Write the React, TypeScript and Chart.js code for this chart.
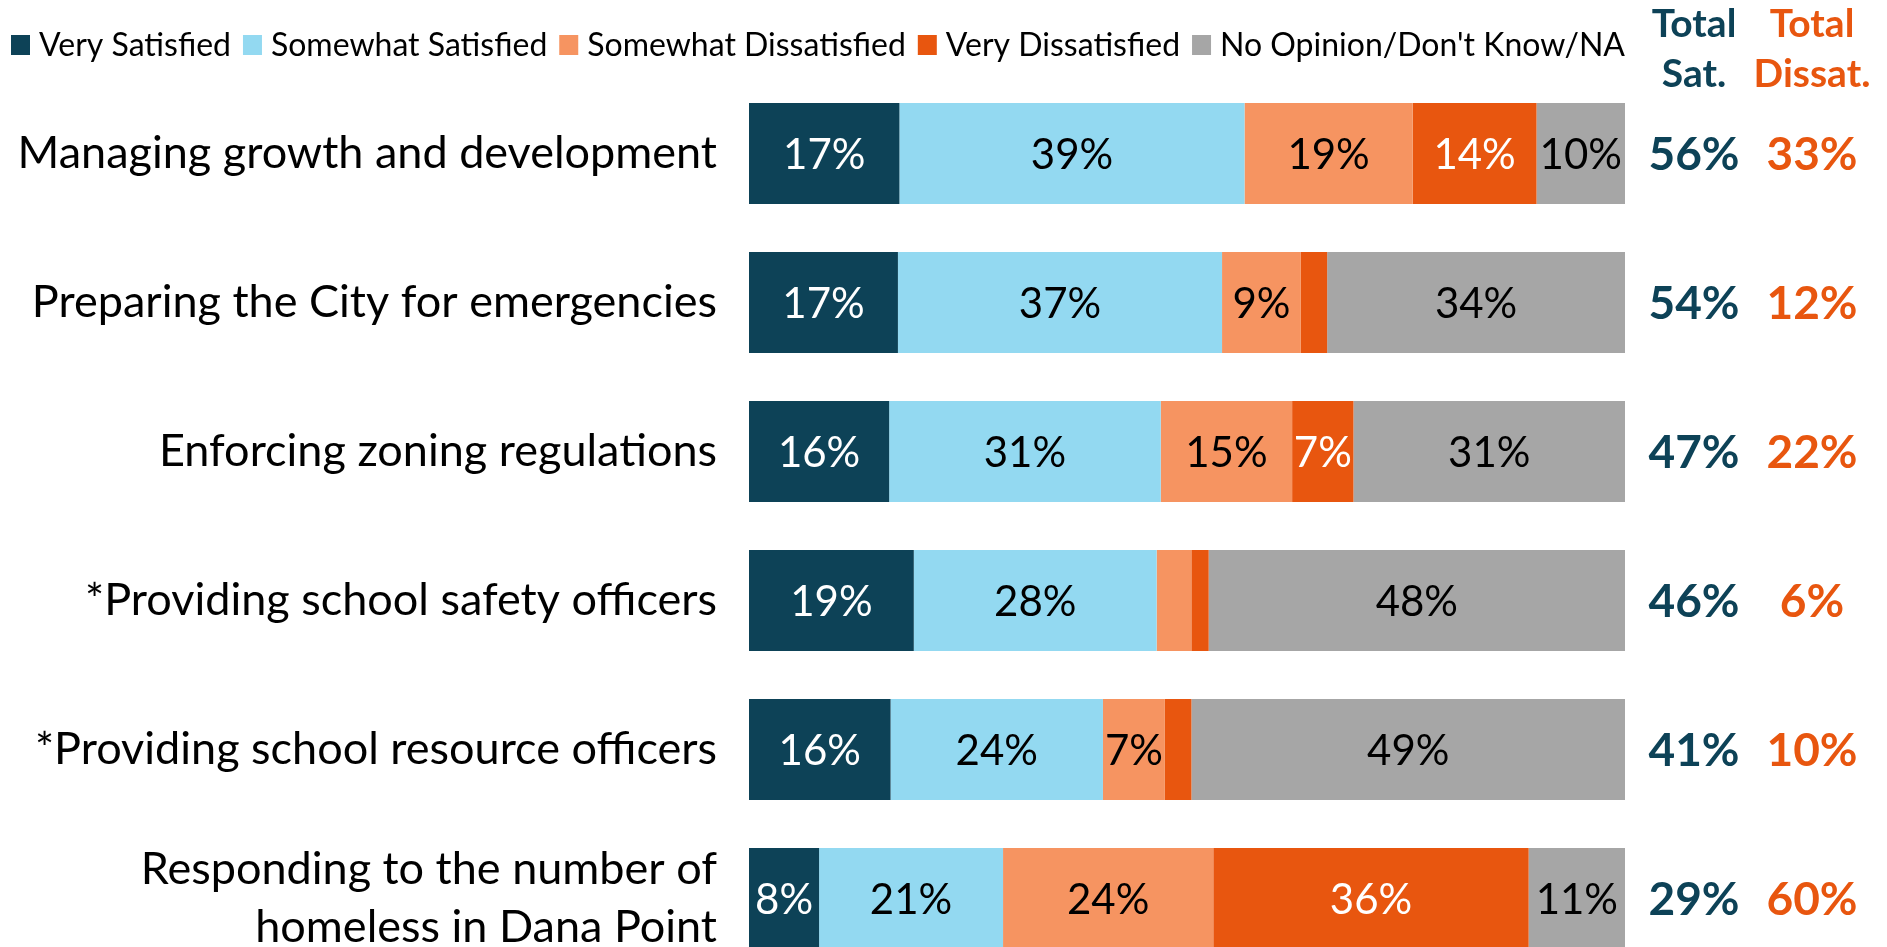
import { useEffect, useRef } from "react";
import { Chart, registerables } from "chart.js";

Chart.register(...registerables);

const categories: (string | string[])[] = [
  "Managing growth and development",
  "Preparing the City for emergencies",
  "Enforcing zoning regulations",
  "*Providing school safety officers",
  "*Providing school resource officers",
  ["Responding to the number of", "homeless in Dana Point"],
];

const seriesNames = [
  "Very Satisfied",
  "Somewhat Satisfied",
  "Somewhat Dissatisfied",
  "Very Dissatisfied",
  "No Opinion/Don't Know/NA",
];

const verySatisfied = [17, 17, 16, 19, 16, 8];
const somewhatSatisfied = [39, 37, 31, 28, 24, 21];
const somewhatDissatisfied = [19, 9, 15, 4, 7, 24];
const veryDissatisfied = [14, 3, 7, 2, 3, 36];
const noOpinion = [10, 34, 31, 48, 49, 11];

const totalSatisfied = [56, 54, 47, 46, 41, 29];
const totalDissatisfied = [33, 12, 22, 6, 10, 60];

const seriesColors = ["#0d4257", "#93d9f1", "#f69461", "#e8560f", "#a6a6a6"];
const labelColors = ["#ffffff", "#000000", "#000000", "#ffffff", "#000000"];
const satColor = "#0d4257";
const dissatColor = "#e8560f";

const FONT = "Lato, 'Noto Sans', sans-serif";
const W = 1887;
const H = 947;
const CANVAS_H = 1000;

export default function App() {
  const canvasRef = useRef<HTMLCanvasElement | null>(null);

  useEffect(() => {
    const canvas = canvasRef.current;
    if (!canvas) return;
    const series = [verySatisfied, somewhatSatisfied, somewhatDissatisfied, veryDissatisfied, noOpinion];
    const rowSums = categories.map((_, i) => series.reduce((s, arr) => s + arr[i], 0));

    const datasets = series.map((arr, di) => ({
      label: seriesNames[di],
      data: arr.map((v, i) => (v / rowSums[i]) * 100),
      backgroundColor: seriesColors[di],
      borderWidth: 0,
      barPercentage: 1,
      categoryPercentage: 0.678,
    }));

    const segmentLabels = {
      id: "segmentLabels",
      afterDatasetsDraw(chart: any) {
        const ctx = chart.ctx;
        ctx.save();
        ctx.font = `42px ${FONT}`;
        ctx.textAlign = "center";
        ctx.textBaseline = "middle";
        chart.data.datasets.forEach((_: any, di: number) => {
          const meta = chart.getDatasetMeta(di);
          meta.data.forEach((el: any, i: number) => {
            const v = series[di][i];
            if (v < 5) return;
            ctx.fillStyle = labelColors[di];
            ctx.fillText(`${v}%`, (el.x + el.base) / 2, el.y + 2);
          });
        });
        ctx.restore();
      },
    };

    const totals = {
      id: "totals",
      afterDraw(chart: any) {
        const ctx = chart.ctx;
        const area = chart.chartArea;
        const xSat = area.right + 69;
        const xDis = area.right + 187;
        ctx.save();
        ctx.textAlign = "center";
        ctx.textBaseline = "alphabetic";
        ctx.font = `bold 39px ${FONT}`;
        ctx.fillStyle = satColor;
        ctx.fillText("Total", xSat, 37);
        ctx.fillText("Sat.", xSat, 87);
        ctx.fillStyle = dissatColor;
        ctx.fillText("Total", xDis, 37);
        ctx.fillText("Dissat.", xDis, 87);
        ctx.textBaseline = "middle";
        ctx.font = `bold 46px ${FONT}`;
        const yScale = chart.scales.y;
        categories.forEach((_, i) => {
          const y = yScale.getPixelForValue(i) + 2;
          ctx.fillStyle = satColor;
          ctx.fillText(`${totalSatisfied[i]}%`, xSat, y);
          ctx.fillStyle = dissatColor;
          ctx.fillText(`${totalDissatisfied[i]}%`, xDis, y);
        });
        ctx.restore();
      },
    };

    const customLegend = {
      id: "customLegend",
      afterDraw(chart: any) {
        const ctx = chart.ctx;
        const area = chart.chartArea;
        ctx.save();
        ctx.font = `32px ${FONT}`;
        ctx.textBaseline = "middle";
        ctx.textAlign = "left";
        const box = 19;
        const boxGap = 9;
        const items = chart.data.datasets.map((d: any) => ({
          text: d.label,
          color: d.backgroundColor,
          w: box + boxGap + ctx.measureText(d.label).width,
        }));
        const startX = 11;
        const endX = area.right;
        const totalW = items.reduce((s: number, it: any) => s + it.w, 0);
        const gap = (endX - startX - totalW) / (items.length - 1);
        let x = startX;
        const yc = 45;
        items.forEach((it: any) => {
          ctx.fillStyle = it.color;
          ctx.fillRect(x, yc - 10, box, 20);
          ctx.fillStyle = "#000";
          ctx.fillText(it.text, x + box + boxGap, yc + 1);
          x += it.w + gap;
        });
        ctx.restore();
      },
    };

    const chart = new Chart(canvas, {
      type: "bar",
      data: { labels: categories as any, datasets: datasets as any },
      options: {
        indexAxis: "y",
        responsive: false,
        animation: false,
        devicePixelRatio: 1,
        layout: { padding: { left: 0, right: 262, top: 79, bottom: CANVAS_H - 973 } },
        plugins: {
          legend: { display: false },
          tooltip: { enabled: false },
        },
        scales: {
          x: { stacked: true, min: 0, max: 100, display: false },
          y: {
            stacked: true,
            grid: { display: false, drawTicks: false },
            border: { display: false },
            ticks: {
              autoSkip: false,
              padding: 32,
              color: "#000",
              font: { family: FONT, size: 45, lineHeight: 1.27 },
            },
            afterFit(scale: any) {
              scale.width = 749;
              scale.paddingTop = 0;
              scale.paddingBottom = 0;
            },
          },
        },
      },
      plugins: [segmentLabels, totals, customLegend],
    });
    return () => chart.destroy();
  }, []);

  return (
    <div style={{ position: "fixed", left: 0, top: 0, width: W, height: H, overflow: "hidden", background: "#fff" }}>
      <canvas ref={canvasRef} width={W} height={CANVAS_H} style={{ display: "block", width: W, height: CANVAS_H }} />
    </div>
  );
}
